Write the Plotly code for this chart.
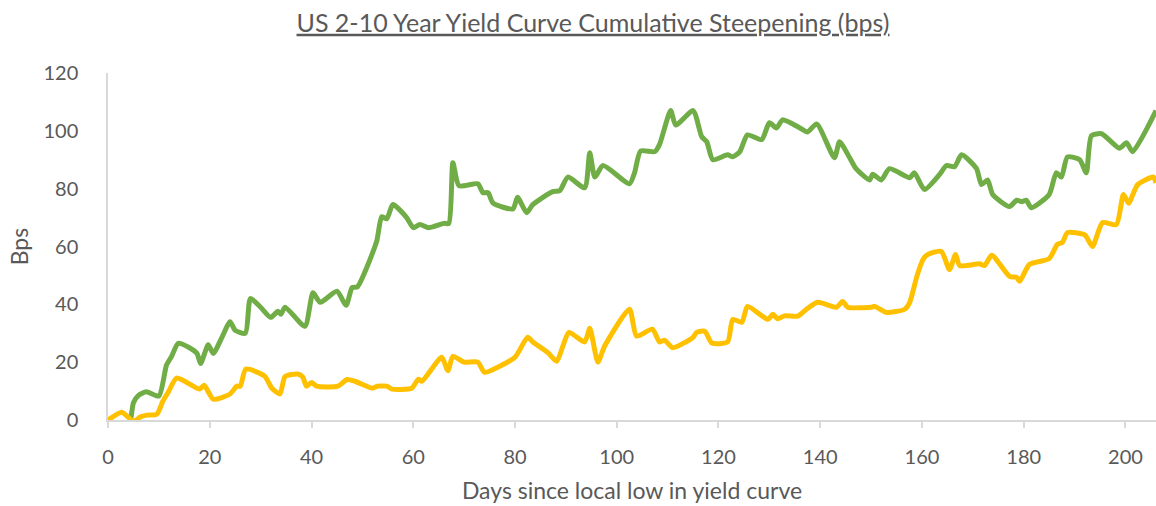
import plotly.graph_objects as go

# ---- data ----
green_days = [0, 2, 4, 5, 6, 7.5, 10, 11.5, 12.5, 13.8, 16, 17.5, 18.2, 19.7, 20.7, 22.4, 24, 25, 27, 28,
              30, 32, 33.4, 34, 34.8, 38.7, 40.3, 41.7, 45, 46.8, 48, 49, 52.8, 53.8, 54.8, 56, 58.7, 60,
              61.3, 63, 66, 67, 67.8, 69, 72.7, 73.7, 74.7, 75.7, 79.6, 80.5, 82.3, 83.5, 87.4, 88.8, 90.4,
              93.7, 94.7, 95.7, 97.3, 102.5, 103.5, 104.7, 107.5, 108.4, 110.6, 111.6, 115, 116.7, 117.7,
              118.9, 121.8, 122.8, 124.2, 125.7, 128.5, 130, 131.4, 132.6, 136, 137.5, 139.3, 142.8, 143.8,
              146, 147, 149.7, 150.3, 152, 153.6, 157.6, 158.5, 160.5, 163.5, 164.8, 166.4, 167.8, 170.7,
              171.7, 172.9, 173.9, 177.2, 178.6, 179.6, 180.5, 181.5, 185, 186.4, 187.4, 188.6, 191, 192.3,
              193.3, 195.3, 198.8, 200.2, 201.4, 206]
green_bps = [0, -2, -3, 6, 8.5, 9.8, 8.3, 19, 22, 26.5, 25, 23, 19.5, 26, 23, 28.6, 34, 31, 30, 42,
             39, 35.5, 37.6, 36.6, 39, 32.4, 44, 40.7, 44.5, 39.7, 45.8, 46, 61.7, 70.3, 69.6, 74.5, 70, 66.5,
             67.6, 66.5, 68, 68, 89, 81, 81.7, 78.6, 78.6, 75, 73, 77, 71.7, 74.5, 79, 79.3, 84,
             80.3, 92.4, 84, 88, 81.7, 85.5, 93, 92.8, 95.2, 107, 102, 107, 98, 96.2,
             90, 91.7, 91, 92.8, 98.6, 97, 102.8, 101, 103.8, 101, 99.6, 102.4, 90.7, 96.2,
             90, 87, 83, 85, 83, 86.9, 83.8, 85.5, 79.7, 85, 88, 87.6, 91.7, 87,
             81.4, 83, 78, 73.8, 76, 75.5, 76, 73.4, 78, 85.5, 84, 91, 90, 85.5,
             98.3, 99, 94, 95.9, 92.8, 107]

yellow_days = [0, 2.7, 3.7, 5, 6.3, 7.6, 9.6, 10.8, 11.8, 13.5, 18, 18.9, 20.7, 24, 25.3, 26, 27.1, 30.8,
               32.2, 33.8, 34.8, 37.3, 38.3, 39, 40, 41, 45.2, 47, 48.5, 52, 53, 54.8, 55.8, 59.7, 61, 61.7,
               65.6, 66.8, 67.8, 70, 72.7, 74, 77, 80, 82.5, 83.5, 86.4, 88.2, 89.4, 90.6, 93.7, 94.7, 96.3,
               97.6, 102.5, 103.9, 107, 108.4, 109.4, 111, 115, 115.7, 117.3, 118.7, 121.8, 122.8, 124.6,
               125.7, 129.7, 130.7, 131.6, 133, 135.6, 137.3, 139.5, 143.2, 144.4, 145.4, 150, 150.7, 153,
               156.6, 157.6, 159, 160.2, 161.1, 163.8, 165.4, 166.6, 167.4, 171.3, 172.3, 173.7, 177.2,
               178.6, 179.2, 181.1, 185, 186.6, 187.6, 188.6, 192, 193.5, 195.5, 198.2, 199.6, 200.6, 202.4,
               205.5, 206]
yellow_bps = [0, 2.7, 1.4, -0.5, 1, 1.7, 2, 6.6, 9.5, 14.5, 10.7, 12, 7.2, 9, 11.7, 11.7, 17.6, 15.2,
              11, 9, 15, 15.9, 14.8, 11.7, 13, 11.7, 11.7, 14, 13.4, 11, 11.7, 11.7, 10.7, 11, 14.1, 13.4,
              21.7, 17, 22, 20, 20, 16.5, 18.6, 21.7, 28.6, 27, 23.4, 20.3, 25.5, 30.3, 27, 31.7, 20,
              25.5, 38.3, 29, 31.4, 27, 27.6, 25, 28.6, 30.3, 30.7, 26.6, 27, 34.8, 33.8,
              39.3, 34.8, 36.6, 35, 36, 35.9, 38.3, 40.7, 39, 41, 39, 39, 39.3, 37.2,
              38.3, 40.7, 49.7, 55.5, 57.2, 58.3, 52, 57.2, 53.4, 54, 53.4, 57, 49.7,
              49.3, 48, 53.8, 55.8, 60.7, 61.4, 64.8, 64, 60, 68.3, 67.6, 78, 75, 81.4,
              84, 82]

x_ticks = [0, 20, 40, 60, 80, 100, 120, 140, 160, 180, 200]
y_ticks = [0, 20, 40, 60, 80, 100, 120]

title_text = "US 2-10 Year Yield Curve Cumulative Steepening (bps)"
x_title = "Days since local low in yield curve"
y_title = "Bps"

FONT = "Lato"
TXT = "#595959"
AXIS = "#D9D9D9"

fig = go.Figure()
fig.add_trace(go.Scatter(x=green_days, y=green_bps, mode="lines", name="2-10 steepening A",
                         line=dict(color="#70AD47", width=5, shape="spline", smoothing=0.6)))
fig.add_trace(go.Scatter(x=yellow_days, y=yellow_bps, mode="lines", name="2-10 steepening B",
                         line=dict(color="#FFC000", width=5, shape="spline", smoothing=0.6)))

fig.update_layout(
    width=1156, height=506, autosize=False,
    margin=dict(l=108, r=0, t=73, b=86, pad=0),
    paper_bgcolor="white", plot_bgcolor="white",
    showlegend=False,
    font=dict(family=FONT, color=TXT),
    title=dict(text="<u>" + title_text + "</u>", x=593 / 1156, xref="container", xanchor="center",
               y=1 - 23 / 506, yref="container", yanchor="middle",
               font=dict(family=FONT, size=25, color=TXT)),
    xaxis=dict(range=[0, 206], tickvals=x_ticks, ticktext=[str(v) for v in x_ticks],
               ticks="outside", ticklen=6, tickcolor=AXIS, tickwidth=1.5,
               showline=True, linecolor=AXIS, linewidth=1.5, showgrid=False, zeroline=False,
               tickfont=dict(family=FONT, size=20, color=TXT), ticklabelstandoff=12,
               title=dict(text=x_title, font=dict(family=FONT, size=23, color=TXT), standoff=16)),
    yaxis=dict(range=[0, 120], tickvals=y_ticks, ticktext=[str(v) for v in y_ticks],
               ticks="", showline=True, linecolor=AXIS, linewidth=1.5, showgrid=False, zeroline=False,
               tickfont=dict(family=FONT, size=20, color=TXT), ticklabelstandoff=24,
               title=dict(text=y_title, font=dict(family=FONT, size=23, color=TXT), standoff=8)),
)

fig.write_html("out.html")
